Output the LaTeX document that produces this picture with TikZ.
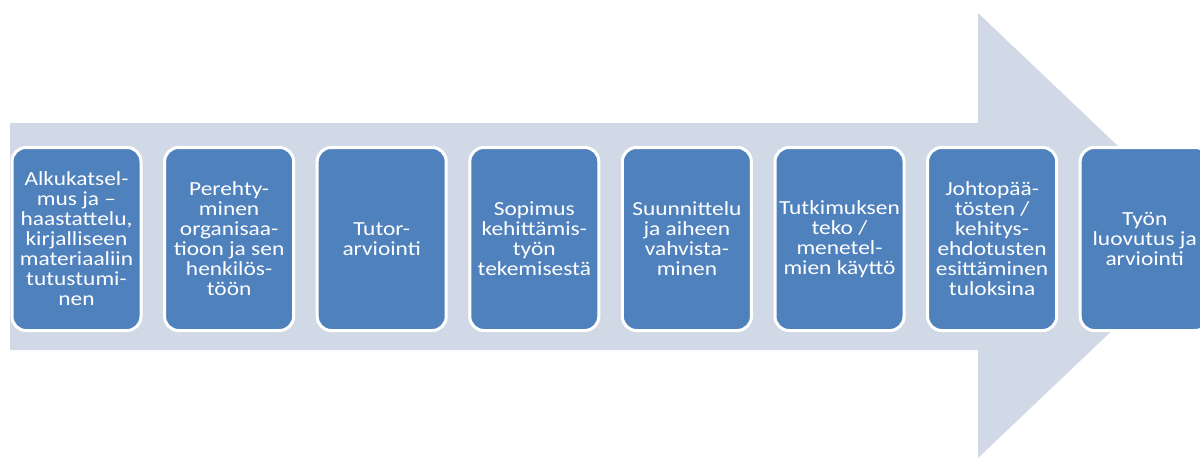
\documentclass[tikz,border=0pt]{standalone}
\usepackage{fontspec}
\setmainfont{Carlito}[FakeStretch=1.17]
\definecolor{bandgray}{HTML}{D1D8E6}
\definecolor{stepblue}{HTML}{4F81BD}
\tikzset{
  phase/.style={
    draw=white, line width=3pt, fill=stepblue, rounded corners=14pt,
    minimum width=129pt, minimum height=183pt, inner sep=2pt,
    text=white, align=center,
    font={\fontsize{20pt}{20pt}\selectfont}
  }
}
\begin{document}
\begin{tikzpicture}[x=1pt,y=-1pt]
  \clip (0,0) rectangle (1200,460);
  \fill[white] (0,0) rectangle (1200,460);
  % large process arrow behind the steps
  \fill[bandgray] (10,123) -- (978,123) -- (978,13) -- (1212,235.5)
        -- (978,458) -- (978,350) -- (10,350) -- cycle;
  % the eight phases
  \node[phase] (p1) at (76.5,239)   {Alkukatsel-\\mus ja –\\haastattelu,\\kirjalliseen\\materiaaliin\\tutustumi-\\nen};
  \node[phase] (p2) at (229.1,239)  {Perehty-\\minen\\organisaa-\\tioon ja sen\\henkilös-\\töön};
  \node[phase] (p3) at (381.7,239)  {Tutor-\\arviointi};
  \node[phase] (p4) at (534.3,239)  {Sopimus\\kehittämis-\\työn\\tekemisestä};
  \node[phase] (p5) at (686.9,239)  {Suunnittelu\\ja aiheen\\vahvista-\\minen};
  \node[phase] (p6) at (839.5,239)  {Tutkimuksen\\teko /\\menetel-\\mien käyttö};
  \node[phase] (p7) at (992.1,239)  {Johtopää-\\tösten /\\kehitys-\\ehdotusten\\esittäminen\\tuloksina};
  \node[phase] (p8) at (1144.7,239) {Työn\\luovutus ja\\arviointi};
\end{tikzpicture}
\end{document}
